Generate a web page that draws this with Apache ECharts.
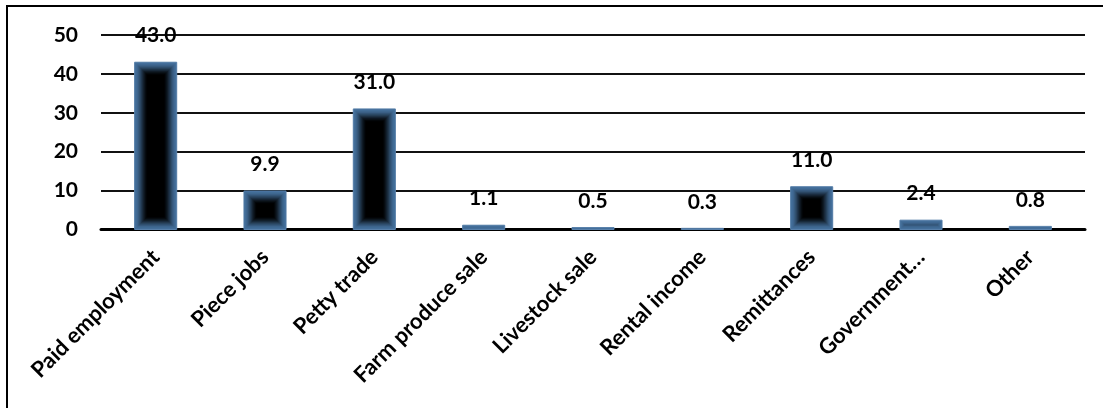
<!DOCTYPE html>
<html>
<head>
<meta charset="utf-8">
<title>Sources of income</title>
<script src="https://cdn.jsdelivr.net/npm/echarts@6/dist/echarts.min.js"></script>
<style>
  html, body { margin: 0; padding: 0; background: #fff; }
  #chart { width: 1103px; height: 408px; }
</style>
</head>
<body>
<div id="chart"></div>
<script>
// Income sources and their shares (%)
const categories = ['Paid employment', 'Piece jobs', 'Petty trade', 'Farm produce sale',
  'Livestock sale', 'Rental income', 'Remittances', 'Government…', 'Other'];
const shares = [43.0, 9.9, 31.0, 1.1, 0.5, 0.3, 11.0, 2.4, 0.8];
const yTicks = { min: 0, max: 50, interval: 10 };

const FONT = 'Lato';
const EDGE = [68, 112, 156];   // steel-blue rim of each bar
const CORE = [0, 0, 0];        // dark core

function mix(t) {
  const c = EDGE.map((e, i) => Math.round(e + (CORE[i] - e) * t));
  return 'rgb(' + c.join(',') + ')';
}

// Bars with a soft blue rim fading into a black core
function renderBar(params, api) {
  const idx = api.value(0);
  const v = api.value(1);
  const top = api.coord([idx, v]);
  const base = api.coord([idx, 0]);
  const bw = api.size([1, 0])[0] * 0.385;
  const x = top[0] - bw / 2;
  const y = top[1];
  const h = base[1] - top[1];
  const children = [];
  const layers = 24;
  const fade = 14;
  for (let k = 0; k < layers; k++) {
    const inset = k * fade / layers;
    const w = bw - 2 * inset;
    const hh = h - 2 * inset;
    if (w <= 0 || hh <= 0) break;
    const s = k / (layers - 1);
    const t = s * s * (3 - 2 * s);
    children.push({
      type: 'rect',
      shape: { x: x + inset, y: y + inset, width: w, height: hh },
      style: k === 0 ? { fill: mix(0), stroke: 'rgb(88,128,170)', lineWidth: 1 } : { fill: mix(t) }
    });
  }
  children.push({
    type: 'text',
    style: {
      text: v.toFixed(1),
      x: top[0], y: y - 16,
      align: 'center', verticalAlign: 'bottom',
      font: 'bold 21px ' + FONT, fill: '#000'
    }
  });
  return { type: 'group', children: children };
}

const chart = echarts.init(document.getElementById('chart'));
chart.setOption({
  animation: false,
  grid: { left: 101, right: 18, top: 35, bottom: 178.5, containLabel: false },
  xAxis: {
    type: 'category',
    data: categories,
    axisTick: { show: false },
    axisLine: { show: true, lineStyle: { color: '#000', width: 3 } },
    axisLabel: {
      rotate: 45, interval: 0, margin: 24,
      fontFamily: FONT, fontWeight: 'bold', fontSize: 22, color: '#000'
    }
  },
  yAxis: {
    type: 'value',
    min: yTicks.min, max: yTicks.max, interval: yTicks.interval,
    axisLine: { show: false },
    axisTick: { show: false },
    axisLabel: { margin: 23, fontFamily: FONT, fontWeight: 'bold', fontSize: 21, color: '#000' },
    splitLine: { lineStyle: { color: '#111', width: 2 } }
  },
  series: [{
    type: 'custom',
    renderItem: renderBar,
    data: shares.map((v, i) => [i, v]),
    encode: { x: 0, y: 1 },
    clip: false,
    z: 1
  }],
  graphic: [{
    type: 'rect',
    shape: { x: 7, y: 6, width: 1200, height: 500 },
    style: { fill: 'none', stroke: '#000', lineWidth: 2 },
    silent: true
  }]
});
</script>
</body>
</html>
